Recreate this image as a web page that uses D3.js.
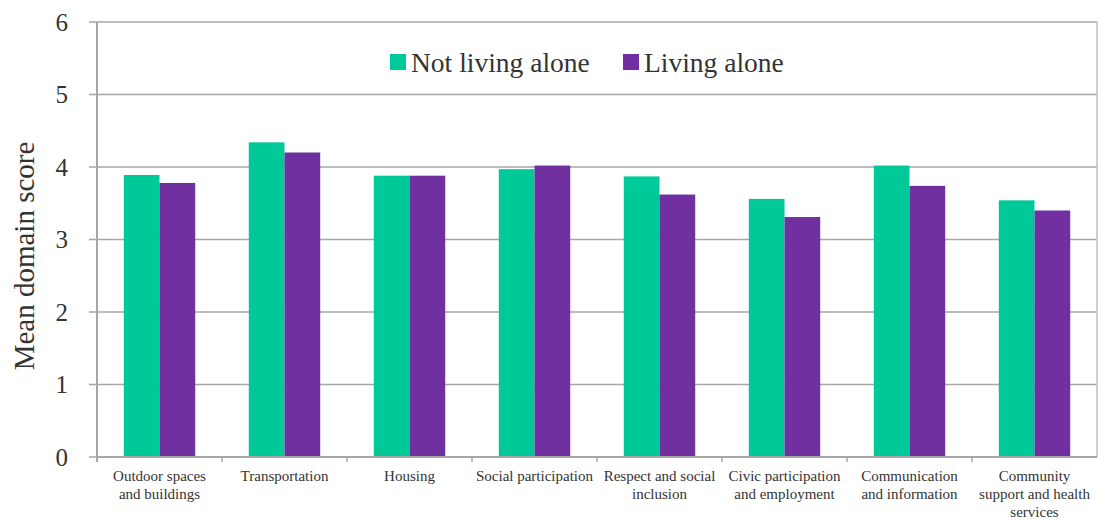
<!DOCTYPE html>
<html>
<head>
<meta charset="utf-8">
<script src="https://cdn.jsdelivr.net/npm/d3@7"></script>
<style>
  body { margin: 0; background: #fff; }
  svg text { font-family: "Liberation Serif", "DejaVu Serif", serif; fill: #333; }
</style>
</head>
<body>
<svg id="canvas" width="1101" height="520"></svg>
<script>
// chart data
var categories = ["Outdoor spaces and buildings", "Transportation", "Housing", "Social participation",
    "Respect and social inclusion", "Civic participation and employment", "Communication and information",
    "Community support and health services"];
var tickLabels = [["Outdoor spaces", "and buildings"], ["Transportation"], ["Housing"], ["Social participation"],
    ["Respect and social", "inclusion"], ["Civic participation", "and employment"],
    ["Communication", "and information"], ["Community", "support and health", "services"]];
var seriesNames = ["Not living alone", "Living alone"];
var notAlone = [3.89, 4.34, 3.88, 3.97, 3.87, 3.56, 4.02, 3.54];
var alone = [3.78, 4.20, 3.88, 4.02, 3.62, 3.31, 3.74, 3.40];
var yTicks = [0, 1, 2, 3, 4, 5, 6];
var colors = ["#00C999", "#7030A0"];

var plotLeft = 97, plotRight = 1097, plotTop = 22, plotBottom = 457;
var svg = d3.select("#canvas");

var x = d3.scaleBand().domain(categories).range([plotLeft, plotRight]);
var inner = d3.scaleBand().domain(seriesNames).range([0, x.bandwidth()]).paddingInner(0).paddingOuter(0.75);
var y = d3.scaleLinear().domain([0, 6]).range([plotBottom, plotTop]);

// gridlines
svg.append("g").selectAll("line").data(yTicks).enter().append("line")
    .attr("x1", plotLeft - 8).attr("x2", plotRight)
    .attr("y1", function(d){ return y(d); }).attr("y2", function(d){ return y(d); })
    .attr("stroke", "#a6a6a6").attr("stroke-width", 1.5);

// y tick labels
svg.append("g").selectAll("text").data(yTicks).enter().append("text")
    .attr("x", 68).attr("y", function(d){ return y(d); }).attr("dy", "0.35em")
    .attr("text-anchor", "end").attr("font-size", 25)
    .text(function(d){ return d; });

// bars
var rows = categories.map(function(c, i){ return {cat: c, vals: [notAlone[i], alone[i]]}; });
var groups = svg.append("g").selectAll("g").data(rows).enter().append("g")
    .attr("transform", function(d){ return "translate(" + x(d.cat) + ",0)"; });
groups.selectAll("rect").data(function(d){ return d.vals.map(function(v, j){ return {s: seriesNames[j], v: v, j: j}; }); })
    .enter().append("rect")
    .attr("x", function(d){ return inner(d.s); })
    .attr("width", inner.bandwidth())
    .attr("y", function(d){ return y(d.v); })
    .attr("height", function(d){ return y(0) - y(d.v); })
    .attr("fill", function(d){ return colors[d.j]; });

// axis lines
svg.append("line").attr("x1", plotLeft).attr("x2", plotLeft).attr("y1", plotTop).attr("y2", plotBottom + 5)
    .attr("stroke", "#a6a6a6").attr("stroke-width", 2);
svg.append("line").attr("x1", plotRight).attr("x2", plotRight).attr("y1", plotTop).attr("y2", plotBottom)
    .attr("stroke", "#bfbfbf").attr("stroke-width", 1.5);
svg.append("line").attr("x1", plotLeft).attr("x2", plotRight).attr("y1", plotBottom).attr("y2", plotBottom)
    .attr("stroke", "#a6a6a6").attr("stroke-width", 2);

// category ticks
svg.append("g").selectAll("line").data(categories.slice(1)).enter().append("line")
    .attr("x1", function(d){ return x(d); }).attr("x2", function(d){ return x(d); })
    .attr("y1", plotBottom).attr("y2", plotBottom + 5)
    .attr("stroke", "#a6a6a6").attr("stroke-width", 1.5);

// category labels
categories.forEach(function(c, i){
    var t = svg.append("text")
        .attr("x", x(c) + x.bandwidth()/2).attr("y", 481)
        .attr("text-anchor", "middle").attr("font-size", 15);
    tickLabels[i].forEach(function(line, k){
        t.append("tspan").attr("x", x(c) + x.bandwidth()/2).attr("dy", k == 0 ? 0 : 18).text(line);
    });
});

// axis title
svg.append("text")
    .attr("transform", "translate(34,256) rotate(-90)")
    .attr("text-anchor", "middle").attr("font-size", 29)
    .text("Mean domain score");

// legend
var legendX = [390, 623];
seriesNames.forEach(function(s, i){
    svg.append("rect").attr("x", legendX[i]).attr("y", 54).attr("width", 16).attr("height", 16)
        .attr("fill", colors[i]);
    svg.append("text").attr("x", legendX[i] + 21).attr("y", 62).attr("dy", "0.35em")
        .attr("font-size", 27.5).text(s);
});
</script>
</body>
</html>
